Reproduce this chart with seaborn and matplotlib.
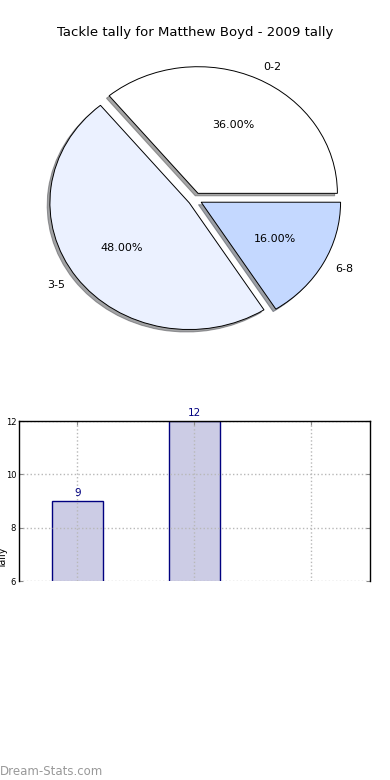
import matplotlib
matplotlib.use("Agg")
import matplotlib.pyplot as plt
import seaborn as sns

# data
categories = ["0-2", "3-5", "6-8"]
tallies = [9, 12, 4]
slice_colors = ["#ffffff", "#ebf1ff", "#c4d8ff"]
title = "Tackle tally for Matthew Boyd - 2009 tally"

sns.set_theme(style="white")
plt.rcParams["font.family"] = ["DejaVu Sans"]
plt.rcParams["text.color"] = "black"
plt.rcParams["xtick.color"] = "black"
plt.rcParams["ytick.color"] = "black"
plt.rcParams["axes.labelcolor"] = "black"

fig = plt.figure(figsize=(3.9, 7.8), dpi=100)

# pie (elliptical, every wedge exploded a little, with a thin shadow)
ax_pie = fig.add_axes([0.0487, 0.5397, 0.9026, 0.410])
ax_pie.pie(
    tallies,
    labels=categories,
    colors=slice_colors,
    explode=[0.05] * len(tallies),
    autopct="%.2f%%",
    shadow={"ox": -0.014, "oy": -0.014, "shade": 0.7},
    startangle=0,
    radius=0.99,
    wedgeprops={"edgecolor": "black", "linewidth": 0.7},
    textprops={"fontsize": 8, "color": "black"},
)
ax_pie.set_aspect("auto")
ax_pie.set_xlim(-1.25, 1.25)
ax_pie.set_ylim(-1.25, 1.25)
ax_pie.set_title(title, fontsize=9.5, pad=2, color="black")

# bar chart (only the upper part is shown, as in the reference)
ax_bar = fig.add_axes([0.0487, 0.2551, 0.9, 0.2051])
sns.barplot(
    x=categories,
    y=tallies,
    color="#ccccE5",
    saturation=1,
    width=0.44,
    edgecolor="navy",
    linewidth=1,
    ax=ax_bar,
)
for i, v in enumerate(tallies):
    if v > 6:
        ax_bar.text(i, v + 0.12, str(v), ha="center", va="bottom",
                    color="navy", fontsize=7.5, clip_on=False)

ax_bar.set_xlim(-0.5, 2.5)
ax_bar.set_ylim(6, 12)
ax_bar.set_yticks([6, 8, 10, 12])
ax_bar.set_xticks([0, 1, 2])
ax_bar.set_xticklabels([])
ax_bar.set_xlabel("")
ax_bar.grid(True, linestyle=":", color="#b8b8b8", linewidth=1)
ax_bar.set_axisbelow(False)
ax_bar.tick_params(axis="both", direction="in", length=3, width=0.8,
                   color="#888888", labelsize=6, pad=2,
                   left=True, right=True, top=True, bottom=False)
for side in ["left", "top", "right"]:
    ax_bar.spines[side].set_visible(True)
    ax_bar.spines[side].set_color("black")
    ax_bar.spines[side].set_linewidth(1)
    ax_bar.spines[side].set_zorder(5)
ax_bar.spines["bottom"].set_visible(False)
ax_bar.set_ylabel("Tally", fontsize=7)
ax_bar.yaxis.set_label_coords(-0.03, 0.14)

fig.text(0.0, 0.003, "Dream-Stats.com", color="#999999", fontsize=8.5,
         ha="left", va="bottom")

fig.savefig("out.png", dpi=100)
